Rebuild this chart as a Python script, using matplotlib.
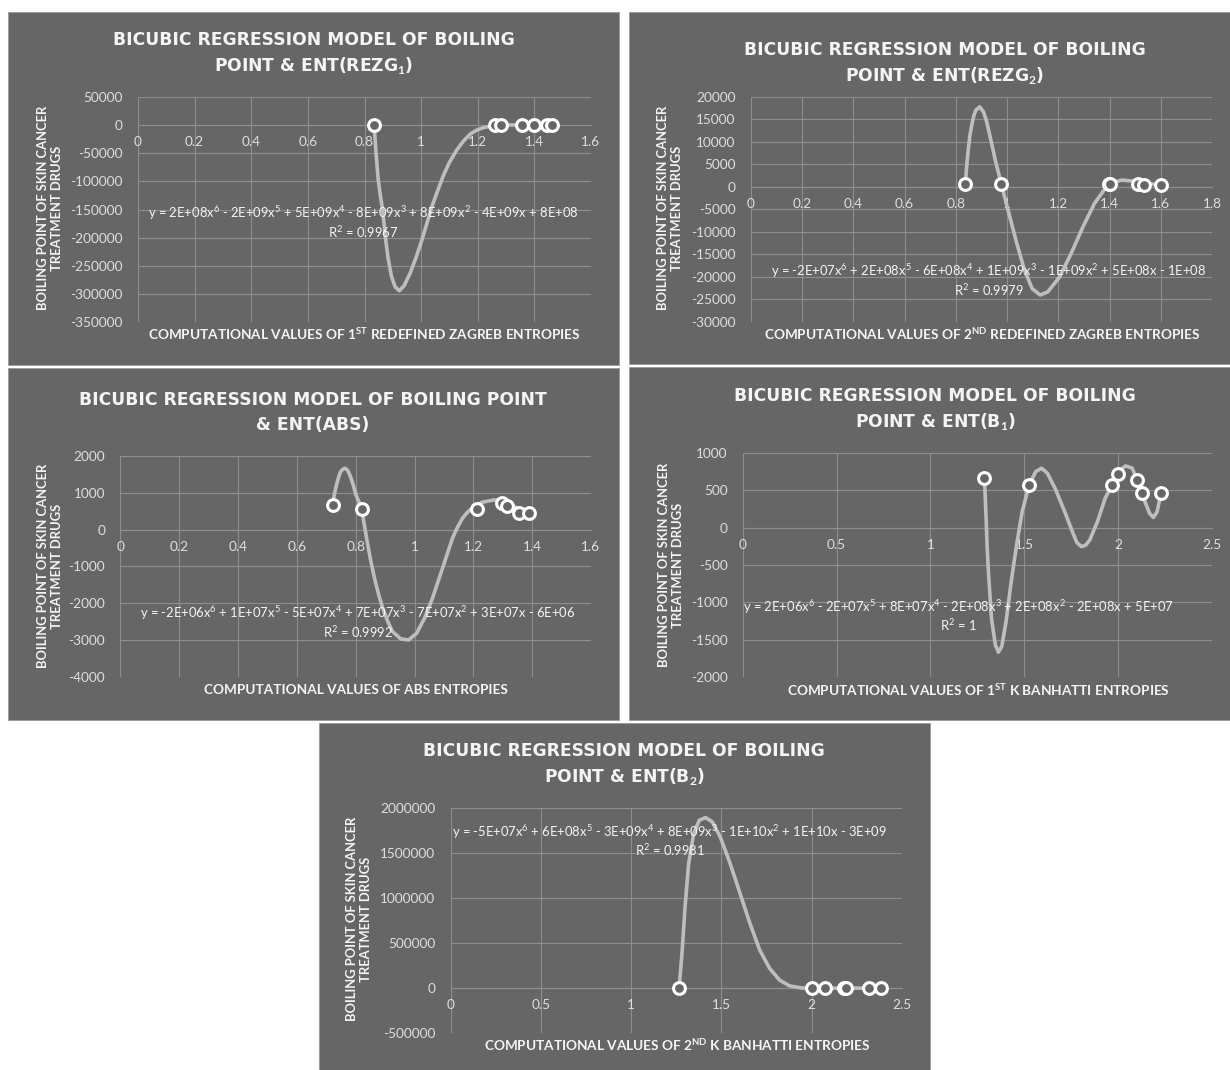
import matplotlib.pyplot as plt
from matplotlib.patches import Rectangle
import matplotlib as mpl

mpl.rcParams['font.family'] = ['Lato', 'DejaVu Sans']
mpl.rcParams['mathtext.fontset'] = 'custom'
mpl.rcParams['mathtext.rm'] = 'Lato'
mpl.rcParams['mathtext.bf'] = 'Lato:bold'
mpl.rcParams['mathtext.it'] = 'Lato:italic'
mpl.rcParams['mathtext.default'] = 'regular'

W, H = 1230, 1070
PANEL = '#666666'
GRID = '#8e8e8e'
TREND = '#bebebe'
TEXT = '#f4f4f4'
TICK = '#dedede'

# ---- data: 1st redefined Zagreb ----
rezg1_x = [0.834, 1.262, 1.283, 1.356, 1.398, 1.444, 1.462]
rezg1_y = [650, 570, 560, 720, 640, 470, 460]
rezg1_fit_x = [0.834, 0.840, 0.848, 0.856, 0.864, 0.874, 0.883, 0.895, 0.908, 0.923,
               0.940, 0.961, 0.982, 1.002, 1.020, 1.037, 1.058, 1.078, 1.100,
               1.126, 1.150, 1.173, 1.196, 1.219, 1.254, 1.300, 1.360, 1.420, 1.462]
rezg1_fit_y = [0, -45000, -95000, -125000, -150000, -200000, -235000, -268000, -287000, -294000,
               -285000, -263000, -235000, -205000, -175000, -146000, -117000, -90000, -66000,
               -44000, -28000, -16000, -9000, -4500, -1000, 300, 600, 600, 460]
rezg1_xticks = [0, 0.2, 0.4, 0.6, 0.8, 1.0, 1.2, 1.4, 1.6]
rezg1_yticks = [-350000, -300000, -250000, -200000, -150000, -100000, -50000, 0, 50000]

# ---- data: 2nd redefined Zagreb ----
rezg2_x = [0.837, 0.977, 1.396, 1.402, 1.513, 1.534, 1.600]
rezg2_y = [650, 570, 720, 640, 570, 470, 460]
rezg2_fit_x = [0.837, 0.842, 0.848, 0.855, 0.863, 0.870, 0.878, 0.893, 0.908, 0.920, 0.931,
               0.954, 0.977, 1.007, 1.038, 1.068, 1.098, 1.129, 1.159, 1.205, 1.250,
               1.296, 1.341, 1.396, 1.448, 1.494, 1.534, 1.600]
rezg2_fit_y = [670, 4500, 8100, 11500, 14000, 15800, 17000, 17750, 16600, 14500, 11800,
               5900, 670, -5900, -12600, -18500, -22600, -24000, -23300, -20000, -14800,
               -8900, -3700, 670, 1500, 1250, 740, 500]
rezg2_xticks = [0, 0.2, 0.4, 0.6, 0.8, 1.0, 1.2, 1.4, 1.6, 1.8]
rezg2_yticks = [-30000, -25000, -20000, -15000, -10000, -5000, 0, 5000, 10000, 15000, 20000]

# ---- data: ABS ----
abs_x = [0.724, 0.820, 1.213, 1.298, 1.314, 1.355, 1.388]
abs_y = [659, 569, 560, 731, 632, 460, 460]
abs_fit_x = [0.724, 0.730, 0.736, 0.743, 0.749, 0.757, 0.764, 0.772, 0.780, 0.790, 0.801,
             0.820, 0.837, 0.850, 0.864, 0.878, 0.892, 0.908, 0.925, 0.953, 0.980,
             1.007, 1.034, 1.061, 1.095, 1.129, 1.146, 1.163, 1.180, 1.196,
             1.230, 1.271, 1.305, 1.339, 1.366, 1.388]
abs_fit_y = [800, 1050, 1250, 1450, 1570, 1640, 1660, 1610, 1480, 1250, 940,
             570, -235, -800, -1320, -1760, -2130, -2470, -2760, -2960, -2990,
             -2810, -2400, -1860, -1050, -235, 60, 307, 470, 578,
             740, 803, 776, 623, 514, 460]
abs_xticks = [0, 0.2, 0.4, 0.6, 0.8, 1.0, 1.2, 1.4, 1.6]
abs_yticks = [-4000, -3000, -2000, -1000, 0, 1000, 2000]

# ---- data: 1st K Banhatti ----
b1_x = [1.288, 1.526, 1.968, 1.997, 2.099, 2.128, 2.229]
b1_y = [659, 570, 570, 721, 641, 467, 467]
b1_fit_x = [1.288, 1.292, 1.296, 1.302, 1.309, 1.325, 1.346, 1.362, 1.380, 1.403, 1.428,
            1.459, 1.489, 1.526, 1.561, 1.592, 1.623, 1.664, 1.715, 1.756, 1.780, 1.804,
            1.827, 1.849, 1.890, 1.931, 1.968, 2.003, 2.040, 2.075, 2.105, 2.136, 2.167,
            2.188, 2.208, 2.229]
b1_fit_y = [659, 400, 169, -250, -588, -1211, -1567, -1665, -1589, -1255, -766,
            -231, 214, 570, 748, 793, 726, 525, 214, -53, -200, -254,
            -235, -165, 80, 392, 570, 757, 824, 793, 614, 392, 191,
            134, 214, 467]
b1_xticks = [0, 0.5, 1.0, 1.5, 2.0, 2.5]
b1_yticks = [-2000, -1500, -1000, -500, 0, 500, 1000]

# ---- data: 2nd K Banhatti ----
b2_x = [1.266, 2.000, 2.073, 2.180, 2.190, 2.320, 2.382]
b2_y = [659, 570, 570, 721, 641, 467, 467]
b2_fit_x = [1.266, 1.274, 1.282, 1.299, 1.319, 1.347, 1.378, 1.413, 1.450, 1.494, 1.549,
            1.604, 1.659, 1.713, 1.768, 1.823, 1.878, 1.943, 2.100, 2.250, 2.382]
b2_fit_y = [0, 190000, 384000, 901000, 1381000, 1714000, 1861000, 1891000, 1843000, 1677000, 1381000,
            1049000, 716000, 421000, 218000, 89000, 26000, 2000, 500, 500, 467]
b2_xticks = [0, 0.5, 1.0, 1.5, 2.0, 2.5]
b2_yticks = [-500000, 0, 500000, 1000000, 1500000, 2000000]

YLABEL = 'BOILING POINT OF SKIN CANCER\nTREATMENT DRUGS'

# layout, in pixels of the 1230x1070 picture
panels = [
    dict(box=(8, 12, 619, 365), plot=(138, 97, 591, 322.3),
         x=rezg1_x, y=rezg1_y, fx=rezg1_fit_x, fy=rezg1_fit_y,
         xt=rezg1_xticks, yt=rezg1_yticks,
         title=('BICUBIC REGRESSION MODEL OF BOILING', r'POINT & ENT(REZG$_\mathbf{1}$)'),
         tpos=(314, 45, 71), ylpos=(50, 208),
         xlabel=r'COMPUTATIONAL VALUES OF 1$^{\mathbf{ST}}$ REDEFINED ZAGREB ENTROPIES', xlpos=(364, 334),
         eq='y = 2E+08x$^6$ - 2E+09x$^5$ + 5E+09x$^4$ - 8E+09x$^3$ + 8E+09x$^2$ - 4E+09x + 8E+08',
         r2='R$^2$ = 0.9967', eqpos=(363, 213, 232)),
    dict(box=(629, 12, 1230, 364), plot=(751, 96.7, 1212, 322),
         x=rezg2_x, y=rezg2_y, fx=rezg2_fit_x, fy=rezg2_fit_y,
         xt=rezg2_xticks, yt=rezg2_yticks,
         title=('BICUBIC REGRESSION MODEL OF BOILING', r'POINT & ENT(REZG$_\mathbf{2}$)'),
         tpos=(945, 55, 81), ylpos=(670, 208),
         xlabel=r'COMPUTATIONAL VALUES OF 2$^{\mathbf{ND}}$ REDEFINED ZAGREB ENTROPIES', xlpos=(982, 334),
         eq='y = -2E+07x$^6$ + 2E+08x$^5$ - 6E+08x$^4$ + 1E+09x$^3$ - 1E+09x$^2$ + 5E+08x - 1E+08',
         r2='R$^2$ = 0.9979', eqpos=(989, 271, 290)),
    dict(box=(8, 368, 619, 720), plot=(120.4, 455.7, 591, 677.3),
         x=abs_x, y=abs_y, fx=abs_fit_x, fy=abs_fit_y,
         xt=abs_xticks, yt=abs_yticks,
         title=('BICUBIC REGRESSION MODEL OF BOILING POINT', '& ENT(ABS)'),
         tpos=(313, 405, 430), ylpos=(50, 566),
         xlabel='COMPUTATIONAL VALUES OF ABS ENTROPIES', xlpos=(356, 690),
         eq='y = -2E+06x$^6$ + 1E+07x$^5$ - 5E+07x$^4$ + 7E+07x$^3$ - 7E+07x$^2$ + 3E+07x - 6E+06',
         r2='R$^2$ = 0.9992', eqpos=(358, 613, 632)),
    dict(box=(629, 367, 1230, 720), plot=(742.7, 452.7, 1212, 677.3),
         x=b1_x, y=b1_y, fx=b1_fit_x, fy=b1_fit_y,
         xt=b1_xticks, yt=b1_yticks,
         title=('BICUBIC REGRESSION MODEL OF BOILING', r'POINT & ENT(B$_\mathbf{1}$)'),
         tpos=(935, 401, 427), ylpos=(671, 565),
         xlabel=r'COMPUTATIONAL VALUES OF 1$^{\mathbf{ST}}$ K BANHATTI ENTROPIES', xlpos=(978, 690),
         eq='y = 2E+06x$^6$ - 2E+07x$^5$ + 8E+07x$^4$ - 2E+08x$^3$ + 2E+08x$^2$ - 2E+08x + 5E+07',
         r2='R$^2$ = 1', eqpos=(958, 607, 625)),
    dict(box=(319, 723, 930, 1070), plot=(450.6, 807.7, 901.8, 1033.3),
         x=b2_x, y=b2_y, fx=b2_fit_x, fy=b2_fit_y,
         xt=b2_xticks, yt=b2_yticks,
         title=('BICUBIC REGRESSION MODEL OF BOILING', r'POINT & ENT(B$_\mathbf{2}$)'),
         tpos=(624, 756, 782), ylpos=(359, 919),
         xlabel=r'COMPUTATIONAL VALUES OF 2$^{\mathbf{ND}}$ K BANHATTI ENTROPIES', xlpos=(677, 1045),
         eq='y = -5E+07x$^6$ + 6E+08x$^5$ - 3E+09x$^4$ + 8E+09x$^3$ - 1E+10x$^2$ + 1E+10x - 3E+09',
         r2='R$^2$ = 0.9981', eqpos=(670, 832, 850)),
]


def fx(px):
    return px / W


def fy(py):
    return 1 - py / H


def tick_text(v):
    if float(v).is_integer():
        return str(int(v))
    return f'{v:g}'


fig = plt.figure(figsize=(W / 100, H / 100), dpi=100)
fig.patch.set_facecolor('white')

for p in panels:
    x0, y0, x1, y1 = p['box']
    fig.add_artist(Rectangle((fx(x0), fy(y1)), fx(x1 - x0), (y1 - y0) / H,
                             transform=fig.transFigure, facecolor=PANEL,
                             edgecolor='#9a9a9a', lw=0.6, zorder=-10))

    a0, b0, a1, b1 = p['plot']
    ax = fig.add_axes([fx(a0), fy(b1), fx(a1 - a0), (b1 - b0) / H])
    ax.set_zorder(1)
    ax.set_facecolor('none')
    ax.set_xlim(p['xt'][0], p['xt'][-1])
    ax.set_ylim(p['yt'][0], p['yt'][-1])
    ax.set_xticks(p['xt'], [tick_text(v) for v in p['xt']])
    ax.set_yticks(p['yt'], [tick_text(v) for v in p['yt']])
    ax.grid(color=GRID, lw=0.8)
    ax.set_axisbelow(True)
    for s in ['top', 'right', 'left']:
        ax.spines[s].set_visible(False)
    ax.spines['bottom'].set_position(('data', 0))
    ax.spines['bottom'].set_color(GRID)
    ax.spines['bottom'].set_linewidth(0.8)
    ax.tick_params(length=0, labelsize=9.8, labelcolor=TICK)
    ax.tick_params(axis='y', pad=11)
    ax.tick_params(axis='x', pad=8)

    ax.plot(p['fx'], p['fy'], color=TREND, lw=2.6, solid_joinstyle='round',
            solid_capstyle='round', zorder=3)
    ax.plot(p['x'], p['y'], ls='none', marker='o', ms=8.5, mfc=PANEL, mec='white',
            mew=2.2, zorder=4, clip_on=False)

    cx, ty1, ty2 = p['tpos']
    for line, ty in zip(p['title'], (ty1, ty2)):
        fig.text(fx(cx), fy(ty), line, ha='center', va='baseline', color=TEXT,
                 family='DejaVu Sans', fontweight='bold', fontsize=12.3)

    fig.text(fx(p['ylpos'][0]), fy(p['ylpos'][1]), YLABEL, rotation=90,
             ha='center', va='center', multialignment='center', color=TEXT,
             fontweight='bold', fontsize=9.4, linespacing=1.2)
    fig.text(fx(p['xlpos'][0]), fy(p['xlpos'][1]), p['xlabel'], ha='center',
             va='center', color=TEXT, fontweight='bold', fontsize=9.8)

    ex, ey1, ey2 = p['eqpos']
    fig.text(fx(ex), fy(ey1), p['eq'], ha='center', va='center', color=TEXT,
             fontsize=9.4, zorder=5)
    fig.text(fx(ex), fy(ey2), p['r2'], ha='center', va='center', color=TEXT,
             fontsize=9.4, zorder=5)

fig.savefig('out.png', dpi=100, facecolor='white')
